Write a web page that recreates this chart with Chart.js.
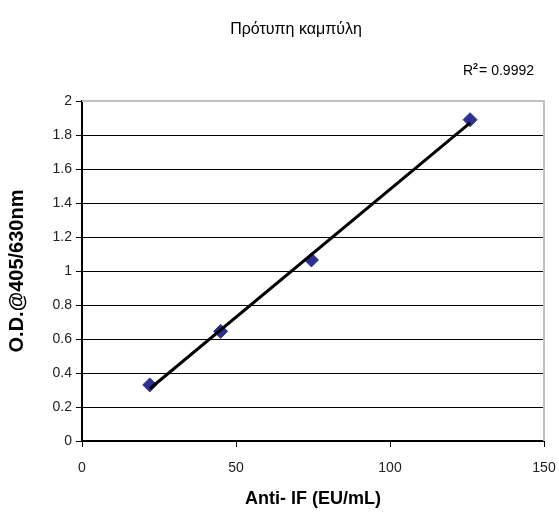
<!DOCTYPE html>
<html>
<head>
<meta charset="utf-8">
<script src="https://cdn.jsdelivr.net/npm/chart.js@4/dist/chart.umd.min.js"></script>
<style>
html,body{margin:0;padding:0;background:#fff;}
#wrap{width:559px;height:514px;position:relative;}
</style>
</head>
<body>
<div id="wrap"><canvas id="c" width="559" height="514"></canvas></div>
<script>
const concentrations = [22, 45, 74.5, 126];
const opticalDensity = [0.33, 0.645, 1.065, 1.89];
const xTicks = [0, 50, 100, 150];
const yTicks = [0, 0.2, 0.4, 0.6, 0.8, 1, 1.2, 1.4, 1.6, 1.8, 2];
const chartTitle = 'Πρότυπη καμπύλη';
const r2Label = '0.9992';
const xTitle = 'Anti- IF (EU/mL)';
const yTitle = 'O.D.@405/630nm';

// least-squares linear trendline through the data points
const n = concentrations.length;
const mx = concentrations.reduce((a,b)=>a+b,0)/n;
const my = opticalDensity.reduce((a,b)=>a+b,0)/n;
let sxy=0, sxx=0;
for(let i=0;i<n;i++){sxy+=(concentrations[i]-mx)*(opticalDensity[i]-my);sxx+=(concentrations[i]-mx)**2;}
const slope = sxy/sxx, intercept = my - slope*mx;
const xmin = Math.min(...concentrations), xmax = Math.max(...concentrations);
const trend = [{x:xmin,y:intercept+slope*xmin},{x:xmax,y:intercept+slope*xmax}];

const FONT = '"Liberation Sans", Arial, sans-serif';

const textPlugin = {
  id:'textPlugin',
  afterDraw(chart){
    const ctx = chart.ctx;
    ctx.save();
    ctx.fillStyle = '#000';
    ctx.font = '16px ' + FONT;
    ctx.textAlign = 'center';
    ctx.textBaseline = 'alphabetic';
    ctx.fillText(chartTitle, 296, 34);
    // R² label, right edge near x=534
    ctx.textAlign = 'left';
    const big = '14px ' + FONT, sup = 'bold 9px ' + FONT;
    ctx.font = big; const wR = ctx.measureText('R').width, wRest = ctx.measureText('= ' + r2Label).width;
    ctx.font = sup; const w2 = ctx.measureText('2').width;
    let x = 534 - (wR + w2 + 1 + wRest), y = 75;
    ctx.font = big; ctx.fillText('R', x, y); x += wR;
    ctx.font = sup; ctx.fillText('2', x, y-6); x += w2 + 1;
    ctx.font = big; ctx.fillText('= ' + r2Label, x, y);
    // plot-area border (gray top & right)
    const a = chart.chartArea;
    ctx.strokeStyle = '#c0c0c0';
    ctx.lineWidth = 2;
    ctx.beginPath();
    ctx.moveTo(a.left, a.top);
    ctx.lineTo(a.right, a.top);
    ctx.lineTo(a.right, a.bottom);
    ctx.stroke();
    ctx.restore();
  }
};

new Chart(document.getElementById('c'), {
  type:'scatter',
  data:{
    datasets:[
      {
        label:'Trendline',
        data:trend,
        showLine:true,
        borderColor:'#000',
        borderWidth:3,
        pointRadius:0,
        fill:false,
        order:0
      },
      {
        label:'Standards',
        data:concentrations.map((v,i)=>({x:v,y:opticalDensity[i]})),
        pointStyle:'rectRot',
        pointRadius:7,
        pointHoverRadius:7,
        backgroundColor:'#2e3192',
        borderColor:'#2e3192',
        borderWidth:1,
        showLine:false,
        order:1
      }
    ]
  },
  options:{
    responsive:false,
    animation:false,
    layout:{padding:{left:0,right:15,top:101,bottom:0}},
    plugins:{legend:{display:false},tooltip:{enabled:false},title:{display:false}},
    scales:{
      x:{
        type:'linear',
        min:0,max:150,
        afterBuildTicks(s){s.ticks = xTicks.map(v=>({value:v}));},
        afterFit(s){s.height = 73; s.paddingLeft = 0; s.paddingRight = 0;},
        grid:{display:true,drawOnChartArea:false,drawTicks:true,tickLength:6,color:'#000',tickColor:'#000'},
        border:{display:true,color:'#000',width:2},
        ticks:{color:'#222',font:{family:FONT,size:14},padding:13,maxRotation:0},
        title:{display:true,text:xTitle,color:'#000',font:{family:FONT,size:18,weight:'bold'},padding:{top:10,bottom:4}}
      },
      y:{
        type:'linear',
        min:0,max:2,
        afterBuildTicks(s){s.ticks = yTicks.map(v=>({value:v}));},
        afterFit(s){s.width = 82; s.paddingTop = 0; s.paddingBottom = 0;},
        grid:{
          display:true,drawOnChartArea:true,drawTicks:true,tickLength:6,
          color:(c)=> c.tick && c.tick.value===2 ? '#c0c0c0' : '#000',
          tickColor:'#000',lineWidth:1
        },
        border:{display:true,color:'#000',width:2},
        ticks:{color:'#222',font:{family:FONT,size:14},padding:4,callback:(v)=>String(v)},
        title:{display:true,text:yTitle,color:'#000',font:{family:FONT,size:20,weight:'bold'},padding:{top:5,bottom:0}}
      }
    }
  },
  plugins:[textPlugin]
});
</script>
</body>
</html>
